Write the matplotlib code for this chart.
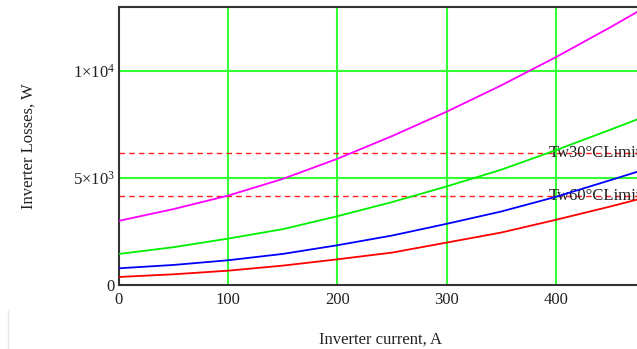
import matplotlib
matplotlib.use("Agg")
import matplotlib.pyplot as plt
from matplotlib.lines import Line2D

plt.rcParams['font.family'] = ['Liberation Serif', 'DejaVu Serif']
plt.rcParams['mathtext.fontset'] = 'custom'
plt.rcParams['mathtext.rm'] = 'Liberation Serif'
plt.rcParams['mathtext.it'] = 'Liberation Serif:italic'

# Data
current = [0, 50, 100, 150, 200, 250, 300, 350, 400, 450, 475]
loss_magenta = [3000, 3550, 4180, 4960, 5900, 6960, 8100, 9330, 10650, 12050, 12780]
loss_green = [1453, 1767, 2170, 2610, 3215, 3875, 4607, 5389, 6300, 7260, 7750]
loss_blue = [781, 937, 1157, 1453, 1858, 2311, 2859, 3435, 4120, 4900, 5300]
loss_red = [375, 500, 670, 905, 1200, 1514, 1982, 2451, 3046, 3670, 4000]

limit_values = [6170, 4140]
limit_labels = ["Tw30°CLimit", "Tw60°CLimit"]

x_ticks = [0, 100, 200, 300, 400]
x_tick_labels = ["0", "100", "200", "300", "400"]
y_ticks = [0, 5000, 10000]
y_tick_labels = ["0", r"5×10$^{3}$", r"1×10$^{4}$"]

fig = plt.figure(figsize=(6.37, 3.49), dpi=100)
ax = fig.add_axes([0.1867, 0.1834, 0.8228, 0.7966])
ax.set_xlim(0, 480)
ax.set_ylim(0, 13000)

# grid
gcol = '#33ff33'
for xv in x_ticks[1:]:
    ax.axvline(xv, color=gcol, lw=1.5, zorder=1)
for yv in y_ticks[1:]:
    ax.axhline(yv, color=gcol, lw=1.5, zorder=1)

# limit lines
for v, lab in zip(limit_values, limit_labels):
    ax.plot([0, 480], [v, v], color='#ff2020', lw=1.0, ls=(0, (4, 3)), zorder=2)
    ax.text(394, v, lab, fontsize=12, va='center', ha='left', color='#222222', zorder=3)

for ys, c in [(loss_magenta, '#ff00ff'), (loss_green, '#00f000'),
              (loss_blue, '#0000ff'), (loss_red, '#ff0000')]:
    ax.plot(current, ys, color=c, lw=1.3, zorder=4)

ax.set_xticks(x_ticks)
ax.set_xticklabels(x_tick_labels)
ax.set_yticks(y_ticks)
ax.set_yticklabels(y_tick_labels)
ax.tick_params(length=0, labelsize=12, colors='#222222')
ax.tick_params(axis='x', pad=5)
ax.tick_params(axis='y', pad=3)

for s in ax.spines.values():
    s.set_color('#333333')
    s.set_linewidth(1.5)

ax.set_xlabel("Inverter current, A", fontsize=12, labelpad=17, color='#222222')
ax.set_ylabel("Inverter Losses, W", fontsize=12, labelpad=26, color='#222222')

# faint artifact line at bottom-left
fig.add_artist(Line2D([8/637, 8/637], [0, 38/349], color='#e6e6e6', lw=1.0))

fig.savefig("out.png", dpi=100)
